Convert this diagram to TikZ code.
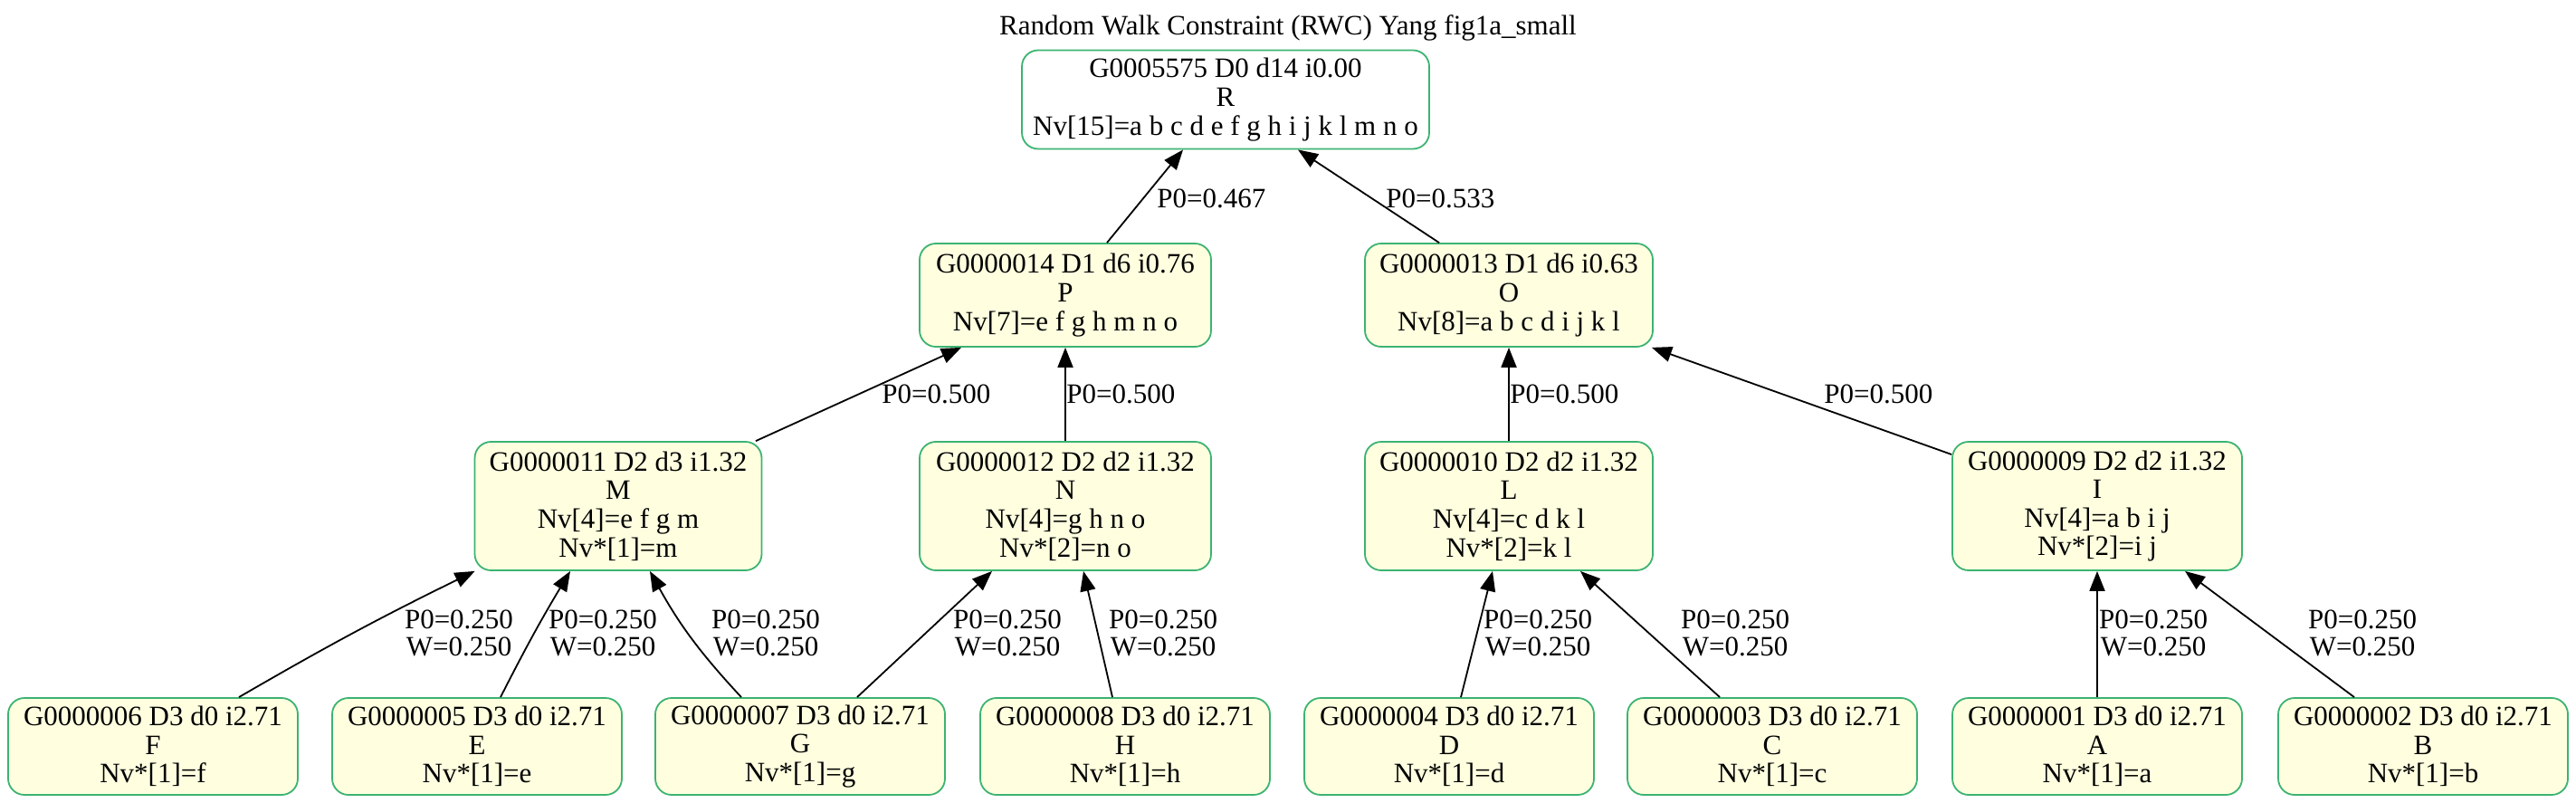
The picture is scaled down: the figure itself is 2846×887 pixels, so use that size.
\documentclass[tikz,border=0pt]{standalone}
\usepackage{fontspec}
\setmainfont{Liberation Serif}
\usetikzlibrary{arrows.meta,calc}
\definecolor{gborder}{HTML}{3CB371}
\definecolor{gfill}{HTML}{FFFFE0}
\begin{document}
\begin{tikzpicture}[x=0.5pt,y=-0.5pt,
  txt/.style={font=\fontsize{15.5}{15.8}\selectfont, inner sep=0pt, align=center},
  gn/.style={txt, draw=gborder, line width=0.9pt, fill=gfill, rounded corners=9pt, minimum width=160pt},
  midbox/.style={gn, minimum height=57pt},
  fourbox/.style={gn, minimum height=71pt},
  leafbox/.style={gn, minimum height=53.5pt},
  edge/.style={draw=black, line width=0.9pt, -{Triangle[length=11pt,width=8.5pt]}},
  lab/.style={txt, anchor=west},
  lab2/.style={txt, font=\fontsize{15.5}{15}\selectfont}
]
\useasboundingbox (0,0) rectangle (2846,887);

\node[txt] (title) at (1423,31) {Random Walk Constraint (RWC) Yang fig1a\_small};

\node[gn, fill=white, minimum width=225pt, minimum height=54.5pt] (R) at (1354,110) {G0005575 D0 d14 i0.00\\R\\Nv[15]=a b c d e f g h i j k l m n o};

\node[midbox, minimum width=161pt] (P) at (1177,326) {G0000014 D1 d6 i0.76\\P\\Nv[7]=e f g h m n o};
\node[midbox, minimum width=159pt] (O) at (1667,326) {G0000013 D1 d6 i0.63\\O\\Nv[8]=a b c d i j k l};

\node[fourbox, minimum width=158.5pt] (M) at (683,559) {G0000011 D2 d3 i1.32\\M\\Nv[4]=e f g m\\Nv*[1]=m};
\node[fourbox, minimum width=161pt] (N) at (1177,559) {G0000012 D2 d2 i1.32\\N\\Nv[4]=g h n o\\Nv*[2]=n o};
\node[fourbox, minimum width=159pt] (L) at (1667,559) {G0000010 D2 d2 i1.32\\L\\Nv[4]=c d k l\\Nv*[2]=k l};
\node[fourbox, minimum width=160pt] (I) at (2317,559) {G0000009 D2 d2 i1.32\\I\\Nv[4]=a b i j\\Nv*[2]=i j};

\node[leafbox] (F) at (169,824.5) {G0000006 D3 d0 i2.71\\F\\Nv*[1]=f};
\node[leafbox] (E) at (527,824.5) {G0000005 D3 d0 i2.71\\E\\Nv*[1]=e};
\node[leafbox] (G) at (884,824.5) {G0000007 D3 d0 i2.71\\G\\Nv*[1]=g};
\node[leafbox] (H) at (1243,824.5) {G0000008 D3 d0 i2.71\\H\\Nv*[1]=h};
\node[leafbox] (D) at (1601,824.5) {G0000004 D3 d0 i2.71\\D\\Nv*[1]=d};
\node[leafbox] (C) at (1958,824.5) {G0000003 D3 d0 i2.71\\C\\Nv*[1]=c};
\node[leafbox] (A) at (2317,824.5) {G0000001 D3 d0 i2.71\\A\\Nv*[1]=a};
\node[leafbox] (B) at (2677,824.5) {G0000002 D3 d0 i2.71\\B\\Nv*[1]=b};

% edges
\draw[edge] ([xshift=23pt]P.north) -- ([xshift=-23.5pt]R.south);
\draw[edge] ([xshift=-38.5pt]O.north) -- ([xshift=40pt]R.south);
\draw[edge] ([xshift=76pt]M.north) -- ([xshift=-57.5pt]P.south);
\draw[edge] (N.north) -- (P.south);
\draw[edge] (L.north) -- (O.south);
\draw[edge] ([yshift=28.5pt]I.west) -- ([xshift=-1pt]O.south east);
\draw[edge] ([xshift=47.5pt]F.north) to[bend left=2] ([xshift=0.5pt]M.south west);
\draw[edge] ([xshift=13pt]E.north) to[bend left=2] ([xshift=-26.5pt]M.south);
\draw[edge] ([xshift=-32.5pt]G.north) to[bend left=7] ([xshift=17.5pt]M.south);
\draw[edge] ([xshift=31.5pt]G.north) -- ([xshift=-40.5pt]N.south);
\draw[edge] ([xshift=-7pt]H.north) -- ([xshift=10pt]N.south);
\draw[edge] ([xshift=6.5pt]D.north) -- ([xshift=-9pt]L.south);
\draw[edge] ([xshift=-29pt]C.north) -- ([xshift=39.5pt]L.south);
\draw[edge] (A.north) -- (I.south);
\draw[edge] ([xshift=-38pt]B.north) -- ([xshift=48.5pt]I.south);

% labels
\node[lab] (lPR) at (1278,219) {P0=0.467};
\node[lab] (lOR) at (1531,219) {P0=0.533};
\node[lab] (lMP) at (974,435) {P0=0.500};
\node[lab] (lNP) at (1178,435) {P0=0.500};
\node[lab] (lLO) at (1668,435) {P0=0.500};
\node[lab] (lIO) at (2015,435) {P0=0.500};
\node[lab2] (lFM) at (507,699) {P0=0.250\\W=0.250};
\node[lab2] (lEM) at (666,699) {P0=0.250\\W=0.250};
\node[lab2] (lGM) at (846,699) {P0=0.250\\W=0.250};
\node[lab2] (lGN) at (1113,699) {P0=0.250\\W=0.250};
\node[lab2] (lHN) at (1285,699) {P0=0.250\\W=0.250};
\node[lab2] (lDL) at (1699,699) {P0=0.250\\W=0.250};
\node[lab2] (lCL) at (1917,699) {P0=0.250\\W=0.250};
\node[lab2] (lAI) at (2379,699) {P0=0.250\\W=0.250};
\node[lab2] (lBI) at (2610,699) {P0=0.250\\W=0.250};
\end{tikzpicture}
\end{document}
